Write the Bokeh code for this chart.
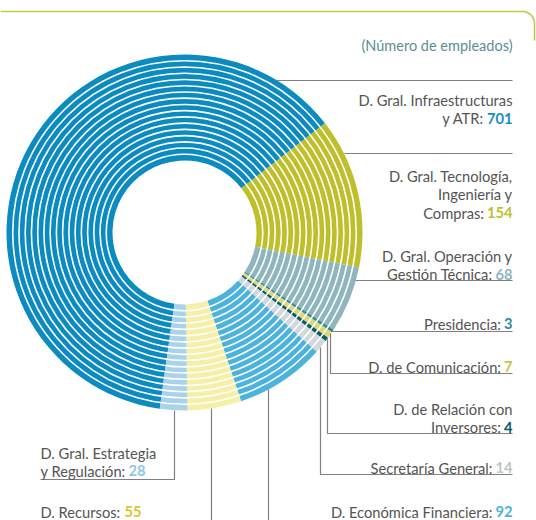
import numpy as np
from bokeh.plotting import figure
from bokeh.models import Range1d
from bokeh.core.properties import value
from bokeh.embed import file_html
from bokeh.resources import INLINE

# ---- data ----
departments = [
    "D. Gral. Infraestructuras y ATR",
    "D. Gral. Tecnología, Ingeniería y Compras",
    "D. Gral. Operación y Gestión Técnica",
    "Presidencia",
    "D. de Comunicación",
    "D. de Relación con Inversores",
    "Secretaría General",
    "D. Económica Financiera",
    "D. Recursos",
    "D. Gral. Estrategia y Regulación",
]
employees = [701, 154, 68, 3, 7, 4, 14, 92, 55, 28]
ring_colors = ["#0b8bc0", "#bfbf2c", "#8fb5bd", "#2f8a98", "#dcd877",
               "#0c5b65", "#d2d9dc", "#4bb3dc", "#f6efa8", "#a8d3eb"]
number_colors = ["#1a8cc4", "#bfbf2c", "#8fb5bd", "#2f8a98", "#c7c24a",
                 "#0c5b65", "#bcc5c9", "#4bb3dc", "#d9c52a", "#8fc6e5"]
# label lines (number appended to last line)
label_lines = [
    ["D. Gral. Infraestructuras", "y ATR:"],
    ["D. Gral. Tecnología,", "Ingeniería y", "Compras:"],
    ["D. Gral. Operación y", "Gestión Técnica:"],
    ["Presidencia:"],
    ["D. de Comunicación:"],
    ["D. de Relación con", "Inversores:"],
    ["Secretaría General:"],
    ["D. Económica Financiera:"],
    ["D. Recursos:"],
    ["D. Gral. Estrategia", "y Regulación:"],
]
unit_note = "(Número de empleados)"

# ---- layout (screen px) ----
CX, CY = 184, 232
R_OUT, R_IN = 178, 72
N_RINGS = 17
START_DEG = -172.0   # clockwise from top where first segment starts

def Y(y):
    return 520 - y

p = figure(width=536, height=520, x_range=Range1d(0, 536), y_range=Range1d(0, 520),
           output_backend="svg", toolbar_location=None, min_border=0)
p.axis.visible = False
p.grid.visible = False
p.outline_line_color = None
p.background_fill_color = "white"
p.border_fill_color = "white"

vals = np.array(employees, dtype=float)
total = vals.sum()
cum = np.concatenate([[0], np.cumsum(vals)])
theta1 = START_DEG + cum[:-1] / total * 360.0
theta2 = START_DEG + cum[1:] / total * 360.0
# clockwise from top -> math angle
start_a = np.radians(90 - theta2)
end_a = np.radians(90 - theta1)
p.annular_wedge(x=CX, y=Y(CY), inner_radius=R_IN, outer_radius=R_OUT,
                start_angle=list(start_a), end_angle=list(end_a),
                fill_color=ring_colors, line_color=None)

w = (R_OUT - R_IN) / N_RINGS
radii = [R_IN + k * w for k in range(1, N_RINGS)]
p.circle(x=[CX] * len(radii), y=[Y(CY)] * len(radii), radius=radii,
         fill_color=None, line_color="white", line_width=1.6)

# ---- top decorative line ----
arc_t = np.linspace(np.pi / 2, 0, 20)
top_x = [0, 522] + list(522 + 12 * np.cos(arc_t)) + [534, 534]
top_y = [Y(11), Y(11)] + list(Y(23) + 12 * np.sin(arc_t)) + [Y(23), Y(40)]
p.line(top_x, top_y, line_color="#c5c850", line_width=1.6)

# ---- leader lines ----
LC = "#808080"
leaders = [
    ([276, 512], [80, 80]),
    ([344, 512], [153, 153]),
    ([355, 512], [280, 280]),
    ([331, 512], [331, 331]),
    ([330, 330, 512], [333, 373, 373]),
    ([327, 327, 512], [338, 433, 433]),
    ([320, 320, 512], [347, 474, 474]),
    ([268, 268], [389, 520]),
    ([211, 211], [408, 520]),
    ([174, 174, 40], [410, 479, 479]),
]
for xs, ys in leaders:
    p.line(xs, [Y(v) for v in ys], line_color=LC, line_width=1.2)

# ---- labels ----
FONT = value("Lato")
FS = "14.7px"
TC = "#545454"
DIGIT_W = 8.5
LH = 18.5
right_baselines = [99, 175, 255, 323, 366, 408, 467, 511]
RX = 512
for i in range(8):
    lines = label_lines[i]
    b0 = right_baselines[i]
    num = str(employees[i])
    nw = len(num) * DIGIT_W
    for j, t in enumerate(lines):
        by = b0 + j * LH
        last = j == len(lines) - 1
        x = RX - nw - 3 if last else RX
        p.text(x=[x], y=[Y(by)], text=[t], text_align="right", text_baseline="alphabetic",
               text_font=FONT, text_font_size=FS, text_color=TC)
        if last:
            p.text(x=[RX], y=[Y(by)], text=[num], text_align="right",
                   text_baseline="alphabetic", text_font=FONT, text_font_size=FS,
                   text_font_style="bold", text_color=number_colors[i])

# left labels
LX = 40
left_info = [(8, [511], 84), (9, [452, 470], 88)]
for i, bases, pw in left_info:
    lines = label_lines[i]
    for j, t in enumerate(lines):
        p.text(x=[LX], y=[Y(bases[j])], text=[t], text_align="left", text_baseline="alphabetic",
               text_font=FONT, text_font_size=FS, text_color=TC)
    p.text(x=[LX + pw], y=[Y(bases[-1])], text=[str(employees[i])], text_align="left",
           text_baseline="alphabetic", text_font=FONT, text_font_size=FS,
           text_font_style="bold", text_color=number_colors[i])

p.text(x=[512], y=[Y(45)], text=[unit_note], text_align="right", text_baseline="alphabetic",
       text_font=FONT, text_font_size="14.5px", text_color="#5b8d96")

open("out.html", "w").write(file_html(p, INLINE))
